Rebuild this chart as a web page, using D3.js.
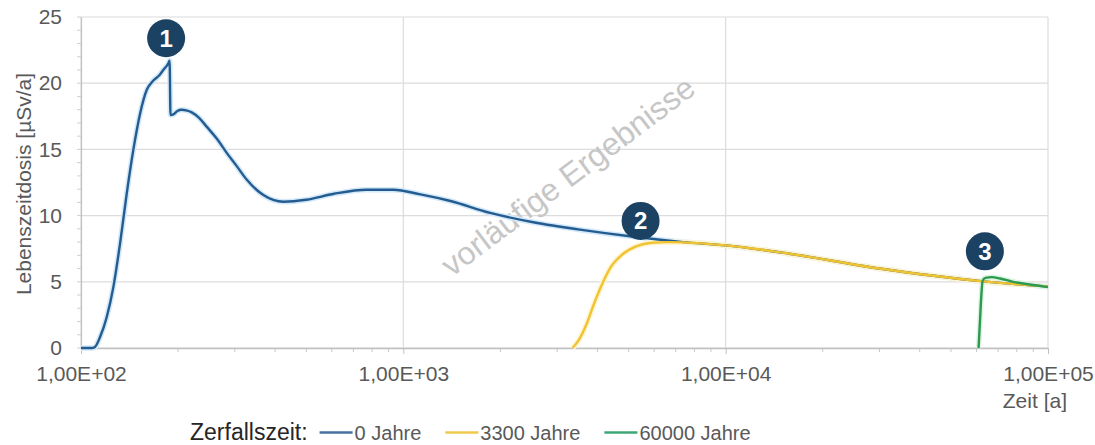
<!DOCTYPE html>
<html><head><meta charset="utf-8">
<script src="https://cdn.jsdelivr.net/npm/d3@7"></script>
<style>
html,body{margin:0;padding:0;background:#fff;}
svg{display:block;font-family:"Liberation Sans",Arial,sans-serif;}
</style></head>
<body>
<svg id="chart" width="1095" height="445"></svg>
<script>
// ---- data ----
const xTickValues = [100, 1000, 10000, 100000];
const xTickLabels = ["1,00E+02", "1,00E+03", "1,00E+04", "1,00E+05"];
const yTickValues = [0, 5, 10, 15, 20, 25];

const blueT = [100, 108, 110.5, 114.6, 120.2, 126, 132.2, 138.7, 145.4, 152.5, 160, 167.7, 175, 180, 186.7, 188.3,
  189.5, 193.5, 199, 205.5, 212, 220.6, 232, 245.7, 264, 283.9, 305, 327, 368, 425, 500, 610, 770, 930, 1130, 1400,
  1860, 2530, 3620, 5190, 7400, 10000, 15000, 30000, 62000, 100000];
const blueY = [0, 0, 0.08, 0.83, 2.34, 4.6, 7.9, 11.7, 15.0, 17.7, 19.5, 20.2, 20.6, 21.0, 21.5, 21.7,
  17.6, 17.65, 17.9, 18.0, 17.95, 17.8, 17.4, 16.7, 15.8, 14.7, 13.7, 12.7, 11.55, 11.05, 11.2, 11.65, 11.95, 11.95, 11.6, 11.1,
  10.2, 9.5, 8.9, 8.4, 8.0, 7.75, 7.2, 6.0, 5.05, 4.65];

const yellowT = [3350, 3500, 3700, 3900, 4100, 4400, 4800, 5300, 5900, 6600, 7400, 10000, 15000, 30000, 62000, 100000];
const yellowY = [0, 0.6, 1.8, 3.3, 4.6, 6.1, 7.1, 7.7, 7.95, 8.0, 7.98, 7.75, 7.2, 6.0, 5.05, 4.65];

const greenT = [60900, 61500, 62200, 62700, 64000, 67000, 71000, 78000, 88000, 100000];
const greenY = [0, 2.0, 4.2, 5.1, 5.3, 5.35, 5.25, 5.0, 4.8, 4.6];

const seriesNames = ["0 Jahre", "3300 Jahre", "60000 Jahre"];
const seriesColors = ["#255c90", "#f0c330", "#2b9a4e"];
const legendColors = ["#45709f", "#efc94a", "#3da877"];

const markerT = [183.7, 5446, 63700];
const markerY = [23.4, 9.6, 7.3];
const markerLabels = ["1", "2", "3"];

// ---- chart ----
const svg = d3.select("#chart");
const x = d3.scaleLog().domain([100, 100000]).range([81, 1048]);
const y = d3.scaleLinear().domain([0, 25]).range([348, 17]);
const textCol = "#595959";
const FONT = "Liberation Sans, Arial, sans-serif";

// gridlines
svg.append("g").selectAll("line").data(yTickValues).join("line")
  .attr("x1", x.range()[0]).attr("x2", x.range()[1])
  .attr("y1", d => y(d)).attr("y2", d => y(d))
  .attr("stroke", "#dcdcdc").attr("stroke-width", 1.2);
svg.append("g").selectAll("line").data(xTickValues).join("line")
  .attr("x1", d => x(d)).attr("x2", d => x(d))
  .attr("y1", y(0)).attr("y2", y(25))
  .attr("stroke", "#dcdcdc").attr("stroke-width", 1.2);

// minor ticks x
const minorX = [];
for (let dec = 100; dec < 100000; dec *= 10) for (let k = 2; k <= 9; k++) minorX.push(dec * k);
svg.append("g").selectAll("line").data(minorX).join("line")
  .attr("x1", d => x(d)).attr("x2", d => x(d))
  .attr("y1", y(0)).attr("y2", y(0) + 4)
  .attr("stroke", "#c8c8c8");
// minor ticks y
const minorY = d3.range(0, 26, 1);
svg.append("g").selectAll("line").data(minorY).join("line")
  .attr("x1", x(100) - 4).attr("x2", x(100))
  .attr("y1", d => y(d)).attr("y2", d => y(d))
  .attr("stroke", "#d0d0d0");

// axes
const xAxis = d3.axisBottom(x).tickValues(xTickValues)
  .tickFormat((d, i) => xTickLabels[i]).tickSizeInner(6).tickSizeOuter(0).tickPadding(12);
const gx = svg.append("g").attr("transform", `translate(0,${y(0)})`).call(xAxis);
gx.select(".domain").attr("stroke", "#c0c0c0").attr("stroke-width", 1.5);
gx.selectAll(".tick line").attr("stroke", "#c0c0c0");
gx.selectAll("text").attr("fill", textCol).attr("font-size", 21).attr("font-family", FONT);

const yAxis = d3.axisLeft(y).tickValues(yTickValues).tickSize(0).tickPadding(19);
const gy = svg.append("g").attr("transform", `translate(${x(100)},0)`).call(yAxis);
gy.select(".domain").attr("stroke", "#c0c0c0").attr("stroke-width", 1.2);
gy.selectAll("text").attr("fill", textCol).attr("font-size", 21).attr("font-family", FONT);

// axis titles
svg.append("text").attr("transform", "translate(23,184) rotate(-90)")
  .attr("text-anchor", "middle").attr("dominant-baseline", "central")
  .attr("fill", textCol).attr("font-size", 21).text("Lebenszeitdosis [µSv/a]");
svg.append("text").attr("x", 1067).attr("y", 408).attr("text-anchor", "end")
  .attr("fill", textCol).attr("font-size", 21).text("Zeit [a]");

// watermark
svg.append("text").attr("transform", "translate(568,176) rotate(-37)")
  .attr("text-anchor", "middle").attr("dominant-baseline", "central")
  .attr("fill", "#c6c6c6").attr("font-size", 32).text("vorläufige Ergebnisse");

// lines
const line = d3.line().x(d => x(d[0])).y(d => y(d[1])).curve(d3.curveMonotoneX);
const series = [
  d3.zip(blueT, blueY), d3.zip(yellowT, yellowY), d3.zip(greenT, greenY)
];
series.forEach((s, i) => {
  svg.append("path").datum(s).attr("d", line).attr("fill", "none")
    .attr("stroke", i === 0 ? "#d3e9fa" : (i === 1 ? "#fff5d0" : "#dff3e4")).attr("stroke-width", 5.5).attr("stroke-linejoin", "round");
});
series.forEach((s, i) => {
  svg.append("path").datum(s).attr("d", line).attr("fill", "none")
    .attr("stroke", seriesColors[i]).attr("stroke-width", 2.4).attr("stroke-linejoin", "round");
});

// markers
const mk = svg.append("g").selectAll("g").data(d3.zip(markerT, markerY, markerLabels)).join("g")
  .attr("transform", d => `translate(${x(d[0])},${y(d[1])})`);
mk.append("circle").attr("r", 19).attr("fill", "#1c4263");
mk.append("text").attr("text-anchor", "middle").attr("dominant-baseline", "central")
  .attr("fill", "#ffffff").attr("font-size", 24).attr("font-weight", "bold").text(d => d[2]);

// legend
const lg = svg.append("g").attr("transform", "translate(190,440)");
const title = lg.append("text").attr("x", 0).attr("y", 0).attr("fill", "#262626")
  .attr("font-size", 23).text("Zerfallszeit:");
let cx = title.node().getComputedTextLength() + 12;
seriesNames.forEach((n, i) => {
  lg.append("line").attr("x1", cx).attr("x2", cx + 33).attr("y1", -7.5).attr("y2", -7.5)
    .attr("stroke", legendColors[i]).attr("stroke-width", 2.6);
  const t = lg.append("text").attr("x", cx + 35).attr("y", 0).attr("fill", textCol)
    .attr("font-size", 20).text(n);
  cx += 35 + t.node().getComputedTextLength() + 24;
});
</script>
</body></html>
